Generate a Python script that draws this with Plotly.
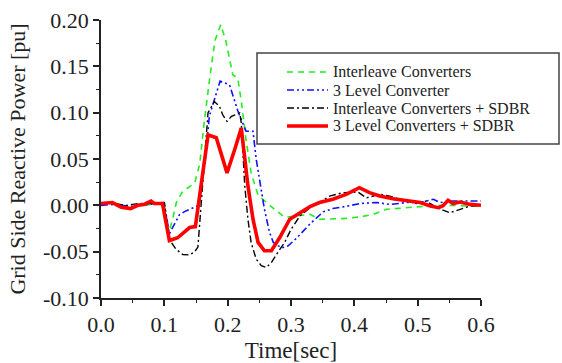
import plotly.graph_objects as go

# ---------------- data ----------------
names = ["Interleave Converters", "3 Level Converter",
         "Interleave Converters + SDBR", "3 Level Converters + SDBR"]

t_green = [0, 0.02, 0.047, 0.07, 0.09, 0.1, 0.107, 0.113, 0.119, 0.129, 0.148, 0.156,
           0.163, 0.172, 0.18, 0.189, 0.197, 0.208, 0.216, 0.222, 0.229, 0.237, 0.248,
           0.269, 0.29, 0.308, 0.33, 0.345, 0.382, 0.409, 0.43, 0.451, 0.477, 0.504,
           0.53, 0.556, 0.583, 0.6]
v_green = [0.002, 0.002, -0.002, 0.0, 0.002, 0.002, -0.03, -0.015, 0.003, 0.015, 0.024, 0.045,
           0.09, 0.139, 0.178, 0.195, 0.178, 0.141, 0.137, 0.11, 0.071, 0.035, 0.011,
           -0.0015, -0.013, -0.0115, -0.0097, -0.015, -0.0143, -0.0125, -0.0097, -0.0043, -0.0025, -0.0014,
           0.0, 0.0, -0.001, 0.0]

t_blue = [0, 0.02, 0.047, 0.07, 0.09, 0.1, 0.108, 0.113, 0.124, 0.134, 0.15, 0.155, 0.166,
          0.171, 0.179, 0.188, 0.203, 0.216, 0.229, 0.24, 0.245, 0.25, 0.258, 0.266, 0.272,
          0.285, 0.295, 0.308, 0.33, 0.351, 0.366, 0.388, 0.409, 0.435, 0.456, 0.483, 0.504,
          0.525, 0.535, 0.556, 0.583, 0.6]
v_blue = [0.0, 0.001, -0.001, 0.001, 0.002, 0.002, -0.031, -0.024, -0.01, -0.006, -0.001, 0.0, 0.057,
          0.096, 0.114, 0.134, 0.13, 0.102, 0.08, 0.08, 0.05, 0.028, -0.004, -0.029, -0.04,
          -0.046, -0.044, -0.036, -0.02, -0.007, -0.0035, -0.001, 0.002, 0.003, 0.001, 0.003, 0.003,
          0.0065, 0.003, 0.0046, 0.0046, 0.0046]

t_black = [0, 0.02, 0.04, 0.06, 0.08, 0.1, 0.108, 0.118, 0.129, 0.14, 0.148, 0.153, 0.163, 0.169,
           0.179, 0.187, 0.192, 0.199, 0.206, 0.219, 0.2215, 0.227, 0.232, 0.237, 0.245, 0.253,
           0.261, 0.269, 0.279, 0.29, 0.30, 0.314, 0.33, 0.345, 0.361, 0.382, 0.406, 0.419,
           0.44, 0.456, 0.472, 0.498, 0.514, 0.53, 0.551, 0.567, 0.583, 0.6]
v_black = [0.002, 0.002, 0.0, 0.002, 0.002, 0.003, -0.037, -0.047, -0.053, -0.0535, -0.05, -0.045, 0.045, 0.1,
           0.112, 0.107, 0.098, 0.0906, 0.096, 0.0997, 0.089, 0.021, -0.015, -0.04, -0.058, -0.065,
           -0.067, -0.0617, -0.051, -0.04, -0.026, -0.0115, -0.0025, 0.003, 0.01, 0.0137, 0.0143, 0.008,
           0.012, 0.010, 0.0065, 0.002, 0.0046, -0.0025, -0.008, -0.0043, -0.0007, 0.0]

t_red = [0, 0.018, 0.032, 0.047, 0.058, 0.068, 0.079, 0.084, 0.097, 0.108, 0.121, 0.14, 0.149,
         0.169, 0.182, 0.199, 0.211, 0.2215, 0.232, 0.24, 0.248, 0.258, 0.269, 0.282, 0.298,
         0.314, 0.33, 0.345, 0.366, 0.388, 0.408, 0.424, 0.44, 0.461, 0.483, 0.504, 0.52, 0.533,
         0.54, 0.548, 0.556, 0.567, 0.583, 0.6]
v_red = [0.002, 0.003, -0.002, -0.0035, 0.0, 0.001, 0.0045, 0.002, 0.002, -0.038, -0.035, -0.024, -0.023,
         0.076, 0.073, 0.035, 0.060, 0.0835, 0.021, -0.015, -0.040, -0.049, -0.049, -0.035, -0.015,
         -0.008, -0.0015, 0.003, 0.0065, 0.012, 0.019, 0.0137, 0.010, 0.0072, 0.0046, 0.003, -0.0007, -0.0025,
         -0.0005, 0.0054, 0.002, 0.0036, 0.001, 0.0]

x_ticks = [0.0, 0.1, 0.2, 0.3, 0.4, 0.5, 0.6]
y_ticks = [-0.10, -0.05, 0.00, 0.05, 0.10, 0.15, 0.20]

# ---------------- styling ----------------
W, H = 562, 363
L, R, T, B = 101, 81, 20, 65
FONT = "Liberation Serif, Times New Roman, serif"

styles = [
    dict(color="#22ee22", width=1.6, dash="6px,5px"),
    dict(color="#1010ff", width=1.6, dash="7px,3px,2px,3px,2px,3px"),
    dict(color="#000000", width=1.4, dash="7px,3px,2px,3px"),
    dict(color="#ff0000", width=3.6, dash="solid"),
]
series = [(t_green, v_green), (t_blue, v_blue), (t_black, v_black), (t_red, v_red)]

fig = go.Figure()
for (tx, vy), nm, st in zip(series, names, styles):
    fig.add_trace(go.Scatter(x=tx, y=vy, mode="lines", name=nm, line=st, showlegend=False))

pw, ph = W - L - R, H - T - B
def px(x):
    return (x - L) / pw
def py(y):
    return (H - B - y) / ph

# legend box, drawn in paper coordinates
shapes = [dict(type="rect", xref="paper", yref="paper", x0=px(257), x1=px(559),
               y0=py(144), y1=py(53), line=dict(color="#444", width=1.5), fillcolor="white",
               layer="above")]
annotations = []
rows = [72, 90, 108, 126]
for nm, st, ry in zip(names, styles, rows):
    shapes.append(dict(type="line", xref="paper", yref="paper", x0=px(287), x1=px(328),
                       y0=py(ry), y1=py(ry),
                       line=dict(color=st["color"], width=st["width"], dash=st["dash"]),
                       layer="above"))
    annotations.append(dict(xref="paper", yref="paper", x=px(331), y=py(ry), text=nm,
                            showarrow=False, xanchor="left", yanchor="middle",
                            font=dict(family=FONT, size=16, color="#222")))

axis_common = dict(showline=True, linecolor="#222", linewidth=1.5, showgrid=False, zeroline=False,
                   ticks="outside", ticklen=6, tickwidth=1.5, tickcolor="#222",
                   tickfont=dict(family=FONT, size=22, color="#222"),
                   minor=dict(ticks="outside", ticklen=3, tickwidth=1.2, tickcolor="#222"),
                   mirror=False, automargin=False)

fig.update_layout(
    width=W, height=H, margin=dict(l=L, r=R, t=T, b=B),
    paper_bgcolor="white", plot_bgcolor="white",
    shapes=shapes, annotations=annotations,
    xaxis=dict(range=[0, 0.6], tickvals=x_ticks, ticktext=[f"{v:.1f}" for v in x_ticks],
               title=dict(text="Time[sec]", font=dict(family=FONT, size=23, color="#222"), standoff=9),
               **axis_common),
    yaxis=dict(range=[-0.10, 0.20], tickvals=y_ticks, ticktext=[f"{v:.2f}" for v in y_ticks],
               title=dict(text="Grid Side Reactive Power [pu]", font=dict(family=FONT, size=22, color="#222"),
                          standoff=11),
               **axis_common),
)
fig.update_xaxes(minor=dict(dtick=0.05, tick0=0))
fig.update_yaxes(minor=dict(dtick=0.025, tick0=0))

fig.write_html("out.html")
